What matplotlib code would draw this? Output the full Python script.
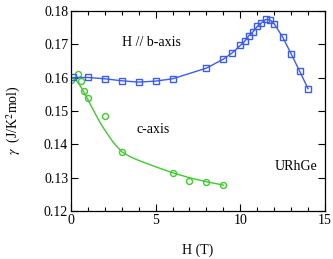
import matplotlib
matplotlib.use("Agg")
import matplotlib.pyplot as plt
from matplotlib.ticker import MultipleLocator

plt.rcParams['font.family'] = ['Liberation Serif', 'DejaVu Serif']
plt.rcParams['mathtext.fontset'] = 'stix'

# b-axis data
h_b = [0.15, 1, 2, 3, 4, 5, 6, 8, 9, 9.5, 10, 10.25, 10.5, 10.75, 11, 11.25,
       11.5, 11.75, 12, 12.5, 13, 13.5, 14]
gamma_b = [0.1601, 0.1601, 0.1597, 0.1591, 0.1587, 0.1590, 0.1597, 0.1629,
           0.1656, 0.1674, 0.1697, 0.1709, 0.1726, 0.1738, 0.1754, 0.1765,
           0.1775, 0.1774, 0.1762, 0.1722, 0.1672, 0.1620, 0.1567]

# c-axis data
h_c = [0, 0.4, 0.6, 0.77, 1, 2, 3, 6, 7, 8, 9]
gamma_c = [0.1593, 0.1612, 0.1589, 0.1560, 0.1539, 0.1486, 0.1376, 0.1314,
           0.1289, 0.1287, 0.1277]

# c-axis guide curve
h_fit = [0, 0.25, 0.5, 0.75, 1, 1.25, 1.5, 1.75, 2, 2.5, 3, 3.5, 4, 5, 6, 7, 8, 9]
gamma_fit = [0.1603, 0.1595, 0.1580, 0.1558, 0.1535, 0.1510, 0.1486, 0.1463,
             0.1443, 0.1406, 0.1378, 0.1363, 0.1352, 0.1333, 0.1315, 0.1300,
             0.1288, 0.1278]

blue = '#3a5cf5'
green = '#3ccc2a'
fs = 10

fig = plt.figure(figsize=(3.33, 2.59), dpi=100)
ax = fig.add_axes([0.213, 0.185, 0.763, 0.772])

ax.plot(h_fit, gamma_fit, '-', color=green, lw=1.0)
ax.plot(h_c, gamma_c, 'o', color=green, mfc='none', mec=green, ms=4.3, mew=1.0)
ax.plot(h_b, gamma_b, 's-', color=blue, mfc='none', mec=blue, ms=4.3,
        mew=1.0, lw=1.0)

ax.set_xlim(0, 15)
ax.set_ylim(0.12, 0.18)
ax.xaxis.set_major_locator(MultipleLocator(5))
ax.xaxis.set_minor_locator(MultipleLocator(1))
ax.yaxis.set_major_locator(MultipleLocator(0.01))
ax.yaxis.set_major_formatter(matplotlib.ticker.FormatStrFormatter('%.2f'))
ax.tick_params(which='both', direction='in', top=True, right=True,
               labelsize=fs, width=0.8, pad=2)
ax.tick_params(which='major', length=5)
ax.tick_params(which='minor', length=3)
for s in ax.spines.values():
    s.set_linewidth(0.9)

ax.set_xlabel('H (T)', fontsize=fs, labelpad=12)
ax.set_ylabel(r'$\gamma$  (J/K$^2$mol)', fontsize=fs)
ax.yaxis.set_label_coords(-0.19, 0.455)

ax.text(4.75, 0.1705, 'H // b-axis', fontsize=fs, ha='center', va='center')
ax.text(4.85, 0.1444, 'c-axis', fontsize=fs, ha='center', va='center')
ax.text(13.3, 0.1333, 'URhGe', fontsize=fs, ha='center', va='center')

fig.savefig('out.png', dpi=100)
